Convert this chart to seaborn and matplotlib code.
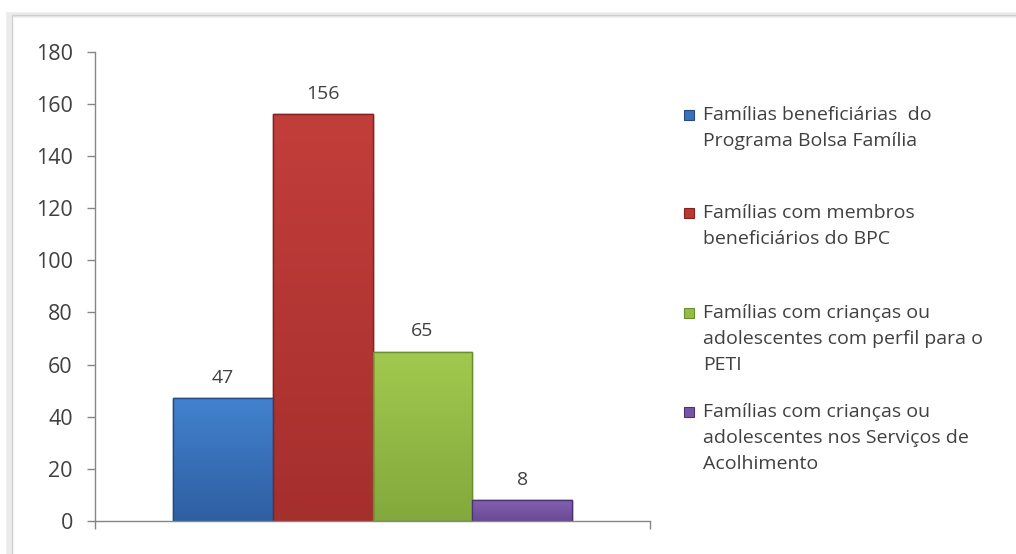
import matplotlib
matplotlib.use("Agg")
import matplotlib.pyplot as plt
from matplotlib.patches import Rectangle
from matplotlib.colors import LinearSegmentedColormap
import numpy as np
import seaborn as sns
import pandas as pd

# ---- data ----
categories = [
    "Famílias beneficiárias  do\nPrograma Bolsa Família",
    "Famílias com membros\nbeneficiários do BPC",
    "Famílias com crianças ou\nadolescentes com perfil para o\nPETI",
    "Famílias com crianças ou\nadolescentes nos Serviços de\nAcolhimento",
]
values = [47, 156, 65, 8]
y_ticks = [0, 20, 40, 60, 80, 100, 120, 140, 160, 180]

bar_colors = ["#3A72B8", "#B73835", "#94BD48", "#7755A6"]
top_colors = ["#4282CE", "#C23E3B", "#A2C94E", "#8260B0"]
bottom_colors = ["#2E5FA2", "#A52F2D", "#82A93C", "#6A4A96"]
edge_colors = ["#244A80", "#852220", "#6A8E30", "#4B3270"]

df = pd.DataFrame({"grupo": ["g"] * len(values), "serie": categories, "valor": values})

sns.set_theme(style="white")
plt.rcParams["font.family"] = ["Open Sans", "DejaVu Sans"]

fig = plt.figure(figsize=(10.16, 5.54), dpi=100)
fig.patch.set_facecolor("white")

# frame with shadow (left/top visible)
fig.patches.append(Rectangle((9 / 1016, -0.1), 1.2, (554 - 15) / 554 + 0.1,
                             transform=fig.transFigure, facecolor="none",
                             edgecolor="#EBEBEB", linewidth=4, zorder=0))
fig.patches.append(Rectangle((12 / 1016, -0.1), 1.2, (554 - 15) / 554 + 0.1,
                             transform=fig.transFigure, facecolor="none",
                             edgecolor="#D0D0D0", linewidth=1.0, zorder=0))

ax = fig.add_axes([95 / 1016, 33 / 554, (650 - 95) / 1016, (521 - 51.7) / 554])
ax.set_facecolor("none")

sns.barplot(data=df, x="grupo", y="valor", hue="serie", hue_order=categories,
            palette=bar_colors, width=0.72, saturation=1, legend=False, ax=ax)

ax.set_ylim(0, 180)
ax.set_xlim(-0.5, 0.5)

grad = np.linspace(1, 0, 256).reshape(-1, 1)
for i, cont in enumerate(ax.containers):
    cmap = LinearSegmentedColormap.from_list(f"g{i}", [bottom_colors[i], top_colors[i]])
    for p in cont:
        p.set_edgecolor(edge_colors[i])
        p.set_linewidth(1.0)
        x0, y0 = p.get_x(), p.get_y()
        w, h = p.get_width(), p.get_height()
        im = ax.imshow(grad, cmap=cmap, aspect="auto", extent=[x0, x0 + w, y0, y0 + h],
                       zorder=p.get_zorder() + 0.1, origin="upper")
        im.set_clip_path(p)
        edge = Rectangle((x0, y0), w, h, facecolor="none", edgecolor=edge_colors[i],
                         linewidth=1.0, zorder=p.get_zorder() + 0.2)
        ax.add_patch(edge)
    ax.bar_label(cont, padding=8, fontsize=14, color="#404040")

ax.set_ylim(0, 180)
ax.set_xlim(-0.5, 0.5)
ax.set_yticks(y_ticks)
ax.set_yticklabels([str(t) for t in y_ticks], fontsize=15.5, color="#404040")
ax.set_xticks([-0.5, 0.5])
ax.set_xticklabels(["", ""])
ax.set_xlabel("")
ax.set_ylabel("")

for s in ["top", "right"]:
    ax.spines[s].set_visible(False)
for s in ["left", "bottom"]:
    ax.spines[s].set_color("#868686")
    ax.spines[s].set_linewidth(1.0)
ax.tick_params(axis="y", direction="out", length=6, width=1, color="#868686", pad=10, left=True)
ax.tick_params(axis="x", direction="out", length=6, width=1, color="#868686", bottom=True)

# legend (manual, aligned on first line)
leg_tops = [106, 204, 304, 403]
for lab, col, ec, top in zip(categories, bar_colors, edge_colors, leg_tops):
    fig.patches.append(Rectangle((684 / 1016, 1 - (top + 14) / 554), 10 / 1016, 10 / 554,
                                 transform=fig.transFigure, facecolor=col,
                                 edgecolor=ec, linewidth=0.8))
    fig.text(703 / 1016, 1 - top / 554, lab, ha="left", va="top", fontsize=14,
             color="#404040", linespacing=1.58)

fig.savefig("out.png", dpi=100, facecolor="white")
